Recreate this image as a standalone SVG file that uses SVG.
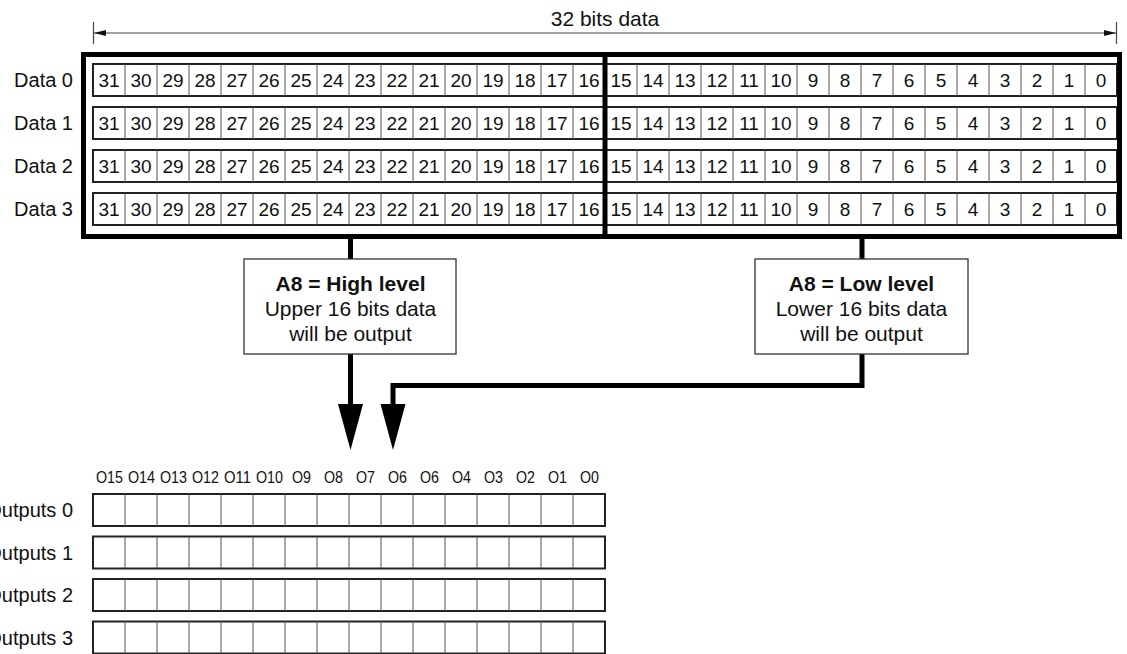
<svg xmlns="http://www.w3.org/2000/svg" width="1127" height="654" viewBox="0 0 1127 654">
<style>
  text { font-family: "Liberation Sans", Arial, sans-serif; fill: #111; }
  .lbl { font-size: 20px; text-anchor: end; }
  .dg { font-size: 19px; text-anchor: middle; }
  .ol { font-family: "Liberation Sans Narrow", "Liberation Sans", sans-serif; font-size: 17px; text-anchor: middle; }
  .row { fill: #fff; stroke: #222; stroke-width: 2; }
  .div { fill: none; stroke: #555; stroke-width: 1; }
  .thick { fill: none; stroke: #000; stroke-width: 5; }
  .box { fill: #fff; stroke: #333; stroke-width: 1.3; }
  .bt { font-size: 21px; text-anchor: middle; }
  .bb { font-weight: bold; }
  .dim { stroke: #444; stroke-width: 1.2; fill: none; }
</style>
<defs>
  <marker id="dimArrow" viewBox="0 0 12 6" refX="12" refY="3" markerWidth="12" markerHeight="6" markerUnits="userSpaceOnUse" orient="auto-start-reverse">
    <path d="M0 0 L12 3 L0 6 Z" fill="#111"/>
  </marker>
</defs>

<g id="dimension">
  <path class="dim" d="M93.5 22V44M1116.5 22V44"/>
  <line class="dim" x1="94" y1="33" x2="1116" y2="33" marker-start="url(#dimArrow)" marker-end="url(#dimArrow)"/>
  <text x="605" y="26" font-size="21" text-anchor="middle">32 bits data</text>
</g>

<g id="data-block">
  <g id="data0" transform="translate(0,64)">
    <text class="lbl" x="73" y="23">Data 0</text>
    <rect class="row" x="93" y="0" width="1024" height="32"/>
    <path class="div" d="M125 0V32M157 0V32M189 0V32M221 0V32M253 0V32M285 0V32M317 0V32M349 0V32M381 0V32M413 0V32M445 0V32M477 0V32M509 0V32M541 0V32M573 0V32M605 0V32M637 0V32M669 0V32M701 0V32M733 0V32M765 0V32M797 0V32M829 0V32M861 0V32M893 0V32M925 0V32M957 0V32M989 0V32M1021 0V32M1053 0V32M1085 0V32"/>
    <text class="dg" x="109" y="23">31</text><text class="dg" x="141" y="23">30</text><text class="dg" x="173" y="23">29</text><text class="dg" x="205" y="23">28</text><text class="dg" x="237" y="23">27</text><text class="dg" x="269" y="23">26</text><text class="dg" x="301" y="23">25</text><text class="dg" x="333" y="23">24</text><text class="dg" x="365" y="23">23</text><text class="dg" x="397" y="23">22</text><text class="dg" x="429" y="23">21</text><text class="dg" x="461" y="23">20</text><text class="dg" x="493" y="23">19</text><text class="dg" x="525" y="23">18</text><text class="dg" x="557" y="23">17</text><text class="dg" x="589" y="23">16</text><text class="dg" x="621" y="23">15</text><text class="dg" x="653" y="23">14</text><text class="dg" x="685" y="23">13</text><text class="dg" x="717" y="23">12</text><text class="dg" x="749" y="23">11</text><text class="dg" x="781" y="23">10</text><text class="dg" x="813" y="23">9</text><text class="dg" x="845" y="23">8</text><text class="dg" x="877" y="23">7</text><text class="dg" x="909" y="23">6</text><text class="dg" x="941" y="23">5</text><text class="dg" x="973" y="23">4</text><text class="dg" x="1005" y="23">3</text><text class="dg" x="1037" y="23">2</text><text class="dg" x="1069" y="23">1</text><text class="dg" x="1101" y="23">0</text>
  </g>
  <g id="data1" transform="translate(0,107)">
    <text class="lbl" x="73" y="23">Data 1</text>
    <rect class="row" x="93" y="0" width="1024" height="32"/>
    <path class="div" d="M125 0V32M157 0V32M189 0V32M221 0V32M253 0V32M285 0V32M317 0V32M349 0V32M381 0V32M413 0V32M445 0V32M477 0V32M509 0V32M541 0V32M573 0V32M605 0V32M637 0V32M669 0V32M701 0V32M733 0V32M765 0V32M797 0V32M829 0V32M861 0V32M893 0V32M925 0V32M957 0V32M989 0V32M1021 0V32M1053 0V32M1085 0V32"/>
    <text class="dg" x="109" y="23">31</text><text class="dg" x="141" y="23">30</text><text class="dg" x="173" y="23">29</text><text class="dg" x="205" y="23">28</text><text class="dg" x="237" y="23">27</text><text class="dg" x="269" y="23">26</text><text class="dg" x="301" y="23">25</text><text class="dg" x="333" y="23">24</text><text class="dg" x="365" y="23">23</text><text class="dg" x="397" y="23">22</text><text class="dg" x="429" y="23">21</text><text class="dg" x="461" y="23">20</text><text class="dg" x="493" y="23">19</text><text class="dg" x="525" y="23">18</text><text class="dg" x="557" y="23">17</text><text class="dg" x="589" y="23">16</text><text class="dg" x="621" y="23">15</text><text class="dg" x="653" y="23">14</text><text class="dg" x="685" y="23">13</text><text class="dg" x="717" y="23">12</text><text class="dg" x="749" y="23">11</text><text class="dg" x="781" y="23">10</text><text class="dg" x="813" y="23">9</text><text class="dg" x="845" y="23">8</text><text class="dg" x="877" y="23">7</text><text class="dg" x="909" y="23">6</text><text class="dg" x="941" y="23">5</text><text class="dg" x="973" y="23">4</text><text class="dg" x="1005" y="23">3</text><text class="dg" x="1037" y="23">2</text><text class="dg" x="1069" y="23">1</text><text class="dg" x="1101" y="23">0</text>
  </g>
  <g id="data2" transform="translate(0,150)">
    <text class="lbl" x="73" y="23">Data 2</text>
    <rect class="row" x="93" y="0" width="1024" height="32"/>
    <path class="div" d="M125 0V32M157 0V32M189 0V32M221 0V32M253 0V32M285 0V32M317 0V32M349 0V32M381 0V32M413 0V32M445 0V32M477 0V32M509 0V32M541 0V32M573 0V32M605 0V32M637 0V32M669 0V32M701 0V32M733 0V32M765 0V32M797 0V32M829 0V32M861 0V32M893 0V32M925 0V32M957 0V32M989 0V32M1021 0V32M1053 0V32M1085 0V32"/>
    <text class="dg" x="109" y="23">31</text><text class="dg" x="141" y="23">30</text><text class="dg" x="173" y="23">29</text><text class="dg" x="205" y="23">28</text><text class="dg" x="237" y="23">27</text><text class="dg" x="269" y="23">26</text><text class="dg" x="301" y="23">25</text><text class="dg" x="333" y="23">24</text><text class="dg" x="365" y="23">23</text><text class="dg" x="397" y="23">22</text><text class="dg" x="429" y="23">21</text><text class="dg" x="461" y="23">20</text><text class="dg" x="493" y="23">19</text><text class="dg" x="525" y="23">18</text><text class="dg" x="557" y="23">17</text><text class="dg" x="589" y="23">16</text><text class="dg" x="621" y="23">15</text><text class="dg" x="653" y="23">14</text><text class="dg" x="685" y="23">13</text><text class="dg" x="717" y="23">12</text><text class="dg" x="749" y="23">11</text><text class="dg" x="781" y="23">10</text><text class="dg" x="813" y="23">9</text><text class="dg" x="845" y="23">8</text><text class="dg" x="877" y="23">7</text><text class="dg" x="909" y="23">6</text><text class="dg" x="941" y="23">5</text><text class="dg" x="973" y="23">4</text><text class="dg" x="1005" y="23">3</text><text class="dg" x="1037" y="23">2</text><text class="dg" x="1069" y="23">1</text><text class="dg" x="1101" y="23">0</text>
  </g>
  <g id="data3" transform="translate(0,193)">
    <text class="lbl" x="73" y="23">Data 3</text>
    <rect class="row" x="93" y="0" width="1024" height="32"/>
    <path class="div" d="M125 0V32M157 0V32M189 0V32M221 0V32M253 0V32M285 0V32M317 0V32M349 0V32M381 0V32M413 0V32M445 0V32M477 0V32M509 0V32M541 0V32M573 0V32M605 0V32M637 0V32M669 0V32M701 0V32M733 0V32M765 0V32M797 0V32M829 0V32M861 0V32M893 0V32M925 0V32M957 0V32M989 0V32M1021 0V32M1053 0V32M1085 0V32"/>
    <text class="dg" x="109" y="23">31</text><text class="dg" x="141" y="23">30</text><text class="dg" x="173" y="23">29</text><text class="dg" x="205" y="23">28</text><text class="dg" x="237" y="23">27</text><text class="dg" x="269" y="23">26</text><text class="dg" x="301" y="23">25</text><text class="dg" x="333" y="23">24</text><text class="dg" x="365" y="23">23</text><text class="dg" x="397" y="23">22</text><text class="dg" x="429" y="23">21</text><text class="dg" x="461" y="23">20</text><text class="dg" x="493" y="23">19</text><text class="dg" x="525" y="23">18</text><text class="dg" x="557" y="23">17</text><text class="dg" x="589" y="23">16</text><text class="dg" x="621" y="23">15</text><text class="dg" x="653" y="23">14</text><text class="dg" x="685" y="23">13</text><text class="dg" x="717" y="23">12</text><text class="dg" x="749" y="23">11</text><text class="dg" x="781" y="23">10</text><text class="dg" x="813" y="23">9</text><text class="dg" x="845" y="23">8</text><text class="dg" x="877" y="23">7</text><text class="dg" x="909" y="23">6</text><text class="dg" x="941" y="23">5</text><text class="dg" x="973" y="23">4</text><text class="dg" x="1005" y="23">3</text><text class="dg" x="1037" y="23">2</text><text class="dg" x="1069" y="23">1</text><text class="dg" x="1101" y="23">0</text>
  </g>
  <rect id="outer-frame" class="thick" x="83.5" y="54.5" width="1036" height="182"/>
  <line id="half-divider" class="thick" x1="605" y1="52" x2="605" y2="239"/>
</g>

<g id="connectors">
  <path class="thick" d="M350.5 236V259M862 236V259"/>
  <path class="thick" d="M350.5 354V408"/>
  <path class="thick" d="M862 354V385.5H393V408"/>
  <path d="M338 404L363 404L350.5 450Z" fill="#000"/>
  <path d="M380.5 404L405.5 404L393 450Z" fill="#000"/>
</g>

<g id="box-high">
  <rect class="box" x="244" y="259" width="212" height="95"/>
  <text class="bt bb" x="350.5" y="291">A8 = High level</text>
  <text class="bt" x="350.5" y="316">Upper 16 bits data</text>
  <text class="bt" x="350.5" y="341">will be output</text>
</g>

<g id="box-low">
  <rect class="box" x="755" y="259" width="213" height="95"/>
  <text class="bt bb" x="861.5" y="291">A8 = Low level</text>
  <text class="bt" x="861.5" y="316">Lower 16 bits data</text>
  <text class="bt" x="861.5" y="341">will be output</text>
</g>

<g id="output-bit-labels">
  <text class="ol" x="109.5" y="483" textLength="27" lengthAdjust="spacingAndGlyphs">O15</text>
  <text class="ol" x="141.5" y="483" textLength="27" lengthAdjust="spacingAndGlyphs">O14</text>
  <text class="ol" x="173.5" y="483" textLength="27" lengthAdjust="spacingAndGlyphs">O13</text>
  <text class="ol" x="205.5" y="483" textLength="27" lengthAdjust="spacingAndGlyphs">O12</text>
  <text class="ol" x="237.5" y="483" textLength="27" lengthAdjust="spacingAndGlyphs">O11</text>
  <text class="ol" x="269.5" y="483" textLength="27" lengthAdjust="spacingAndGlyphs">O10</text>
  <text class="ol" x="301.5" y="483" textLength="19" lengthAdjust="spacingAndGlyphs">O9</text>
  <text class="ol" x="333.5" y="483" textLength="19" lengthAdjust="spacingAndGlyphs">O8</text>
  <text class="ol" x="365.5" y="483" textLength="19" lengthAdjust="spacingAndGlyphs">O7</text>
  <text class="ol" x="397.5" y="483" textLength="19" lengthAdjust="spacingAndGlyphs">O6</text>
  <text class="ol" x="429.5" y="483" textLength="19" lengthAdjust="spacingAndGlyphs">O6</text>
  <text class="ol" x="461.5" y="483" textLength="19" lengthAdjust="spacingAndGlyphs">O4</text>
  <text class="ol" x="493.5" y="483" textLength="19" lengthAdjust="spacingAndGlyphs">O3</text>
  <text class="ol" x="525.5" y="483" textLength="19" lengthAdjust="spacingAndGlyphs">O2</text>
  <text class="ol" x="557.5" y="483" textLength="19" lengthAdjust="spacingAndGlyphs">O1</text>
  <text class="ol" x="589.5" y="483" textLength="19" lengthAdjust="spacingAndGlyphs">O0</text>
</g>

<g id="outputs0" transform="translate(0,494)">
  <text class="lbl" x="73" y="23">Outputs 0</text>
  <rect class="row" x="93" y="0" width="512" height="32"/>
  <path class="div" d="M125 0V32M157 0V32M189 0V32M221 0V32M253 0V32M285 0V32M317 0V32M349 0V32M381 0V32M413 0V32M445 0V32M477 0V32M509 0V32M541 0V32M573 0V32"/>
</g>
<g id="outputs1" transform="translate(0,536.5)">
  <text class="lbl" x="73" y="23">Outputs 1</text>
  <rect class="row" x="93" y="0" width="512" height="32"/>
  <path class="div" d="M125 0V32M157 0V32M189 0V32M221 0V32M253 0V32M285 0V32M317 0V32M349 0V32M381 0V32M413 0V32M445 0V32M477 0V32M509 0V32M541 0V32M573 0V32"/>
</g>
<g id="outputs2" transform="translate(0,579)">
  <text class="lbl" x="73" y="23">Outputs 2</text>
  <rect class="row" x="93" y="0" width="512" height="32"/>
  <path class="div" d="M125 0V32M157 0V32M189 0V32M221 0V32M253 0V32M285 0V32M317 0V32M349 0V32M381 0V32M413 0V32M445 0V32M477 0V32M509 0V32M541 0V32M573 0V32"/>
</g>
<g id="outputs3" transform="translate(0,621.5)">
  <text class="lbl" x="73" y="23">Outputs 3</text>
  <rect class="row" x="93" y="0" width="512" height="32"/>
  <path class="div" d="M125 0V32M157 0V32M189 0V32M221 0V32M253 0V32M285 0V32M317 0V32M349 0V32M381 0V32M413 0V32M445 0V32M477 0V32M509 0V32M541 0V32M573 0V32"/>
</g>
</svg>
